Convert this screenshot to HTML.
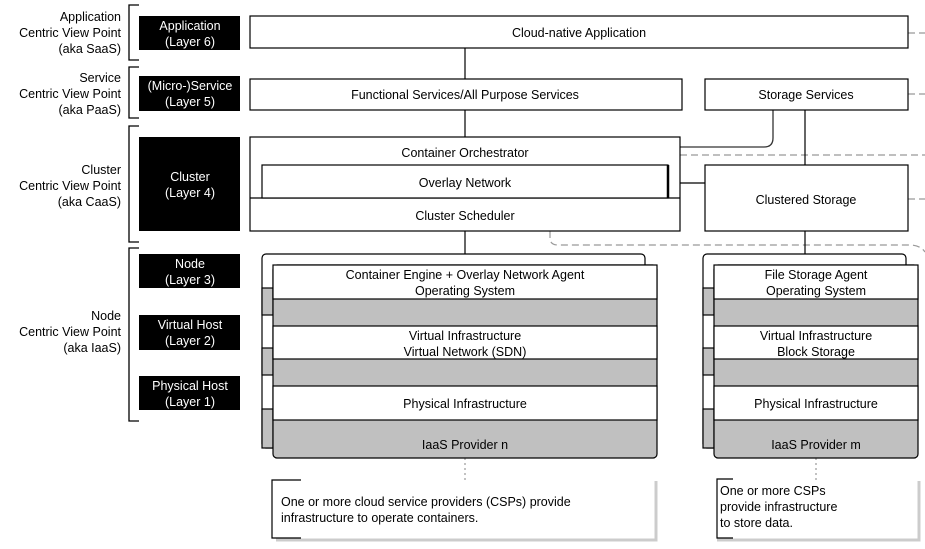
<!DOCTYPE html>
<html><head><style>body{margin:0;background:#fff}svg{display:block}text{font-family:"Liberation Sans",sans-serif;font-size:12.5px;fill:#000}</style></head><body>
<svg width="925" height="549" viewBox="0 0 925 549">
<g stroke="#000" fill="none" stroke-width="1.3">
<path d="M139 5H129V60H139"/><path d="M139 67H129V118H139"/><path d="M139 126H129V242H139"/><path d="M139 248H129V421H139"/>
</g>
<g text-anchor="end">
<text x="121" y="21">Application</text><text x="121" y="37">Centric View Point</text><text x="121" y="53">(aka SaaS)</text>
<text x="121" y="82">Service</text><text x="121" y="98">Centric View Point</text><text x="121" y="114">(aka PaaS)</text>
<text x="121" y="174">Cluster</text><text x="121" y="190">Centric View Point</text><text x="121" y="206">(aka CaaS)</text>
<text x="121" y="320">Node</text><text x="121" y="336">Centric View Point</text><text x="121" y="352">(aka IaaS)</text>
</g>
<g fill="#000"><rect x="139" y="16" width="101" height="34"/><rect x="139" y="76" width="101" height="35"/><rect x="139" y="137" width="101" height="94"/><rect x="139" y="254" width="101" height="34"/><rect x="139" y="315" width="101" height="35"/><rect x="139" y="376" width="101" height="34"/></g>
<g text-anchor="middle">
<text x="190" y="30" style="fill:#fff">Application</text><text x="190" y="46" style="fill:#fff">(Layer 6)</text>
<text x="190" y="90" style="fill:#fff">(Micro-)Service</text><text x="190" y="106" style="fill:#fff">(Layer 5)</text>
<text x="190" y="181" style="fill:#fff">Cluster</text><text x="190" y="197" style="fill:#fff">(Layer 4)</text>
<text x="190" y="268" style="fill:#fff">Node</text><text x="190" y="284" style="fill:#fff">(Layer 3)</text>
<text x="190" y="329" style="fill:#fff">Virtual Host</text><text x="190" y="345" style="fill:#fff">(Layer 2)</text>
<text x="190" y="390" style="fill:#fff">Physical Host</text><text x="190" y="406" style="fill:#fff">(Layer 1)</text>
</g>
<g stroke="#999" fill="none" stroke-dasharray="7,4" stroke-width="1.2">
<path d="M908 33H925"/><path d="M908 94H925"/><path d="M680 155H925"/><path d="M908 199H925"/>
<path d="M550 231V238Q550 245 558 245H910Q920 245 925 252"/>
</g>
<g stroke="#999" stroke-dasharray="2,3" stroke-width="1.2"><path d="M465 458V480"/><path d="M816 458V480"/></g>
<g stroke="#000" stroke-width="1.2"><path d="M465 48V79M465 110V137M465 231V254M805 110V165M805 231V254M680 183H705"/></g>
<path d="M773 110V138Q773 147 764 147H680" stroke="#333" fill="none" stroke-width="1.3"/>
<g stroke="#000" fill="#fff" stroke-width="1.2">
<rect x="250" y="16" width="658" height="32"/>
<rect x="250" y="79" width="432" height="31"/><rect x="705" y="79" width="203" height="31"/>
<rect x="250" y="137" width="430" height="94"/><path d="M250 198H680"/>
<rect x="262" y="165" width="406" height="33"/>
<rect x="705" y="165" width="203" height="66"/>
</g>
<path d="M668 165V198" stroke="#000" stroke-width="2.5"/>
<g text-anchor="middle">
<text x="579" y="37">Cloud-native Application</text>
<text x="465" y="99">Functional Services/All Purpose Services</text><text x="806" y="99">Storage Services</text>
<text x="465" y="157">Container Orchestrator</text><text x="465" y="187">Overlay Network</text><text x="465" y="220">Cluster Scheduler</text>
<text x="806" y="204">Clustered Storage</text>
</g>
<g stroke="#000" stroke-width="1.2">
<rect x="262" y="254" width="383" height="194" rx="4" fill="#fff"/>
<rect x="262" y="288" width="11" height="27" fill="#c0c0c0"/><rect x="262" y="348" width="11" height="27" fill="#c0c0c0"/><rect x="262" y="409" width="11" height="39" fill="#c0c0c0"/>
<rect x="273" y="265" width="384" height="193" rx="4" fill="#c0c0c0"/>
<rect x="273" y="265" width="384" height="34" fill="#fff"/><rect x="273" y="326" width="384" height="33" fill="#fff"/><rect x="273" y="386" width="384" height="34" fill="#fff"/>
<rect x="703" y="254" width="203" height="194" rx="4" fill="#fff"/>
<rect x="703" y="288" width="11" height="27" fill="#c0c0c0"/><rect x="703" y="348" width="11" height="27" fill="#c0c0c0"/><rect x="703" y="409" width="11" height="39" fill="#c0c0c0"/>
<rect x="714" y="265" width="204" height="193" rx="4" fill="#c0c0c0"/>
<rect x="714" y="265" width="204" height="34" fill="#fff"/><rect x="714" y="326" width="204" height="33" fill="#fff"/><rect x="714" y="386" width="204" height="34" fill="#fff"/>
</g>
<g text-anchor="middle">
<text x="465" y="279">Container Engine + Overlay Network Agent</text><text x="465" y="295">Operating System</text>
<text x="465" y="340">Virtual Infrastructure</text><text x="465" y="356">Virtual Network (SDN)</text>
<text x="465" y="408">Physical Infrastructure</text><text x="465" y="449">IaaS Provider n</text>
<text x="816" y="279">File Storage Agent</text><text x="816" y="295">Operating System</text>
<text x="816" y="340">Virtual Infrastructure</text><text x="816" y="356">Block Storage</text>
<text x="816" y="408">Physical Infrastructure</text><text x="816" y="449">IaaS Provider m</text>
</g>
<g fill="none" stroke-width="3">
<path d="M656 481V540H276" stroke="#ccc"/>
<path d="M919 481V540H717" stroke="#ccc"/>
</g>
<g fill="none" stroke="#000" stroke-width="1.2">
<path d="M301 480H272V538H301"/>
<path d="M733 479H717V538H733"/>
</g>
<text x="281" y="506">One or more cloud service providers (CSPs) provide</text><text x="281" y="522">infrastructure to operate containers.</text>
<text x="720" y="495">One or more CSPs</text><text x="720" y="511">provide infrastructure</text><text x="720" y="527">to store data.</text>
</svg>
</body></html>
